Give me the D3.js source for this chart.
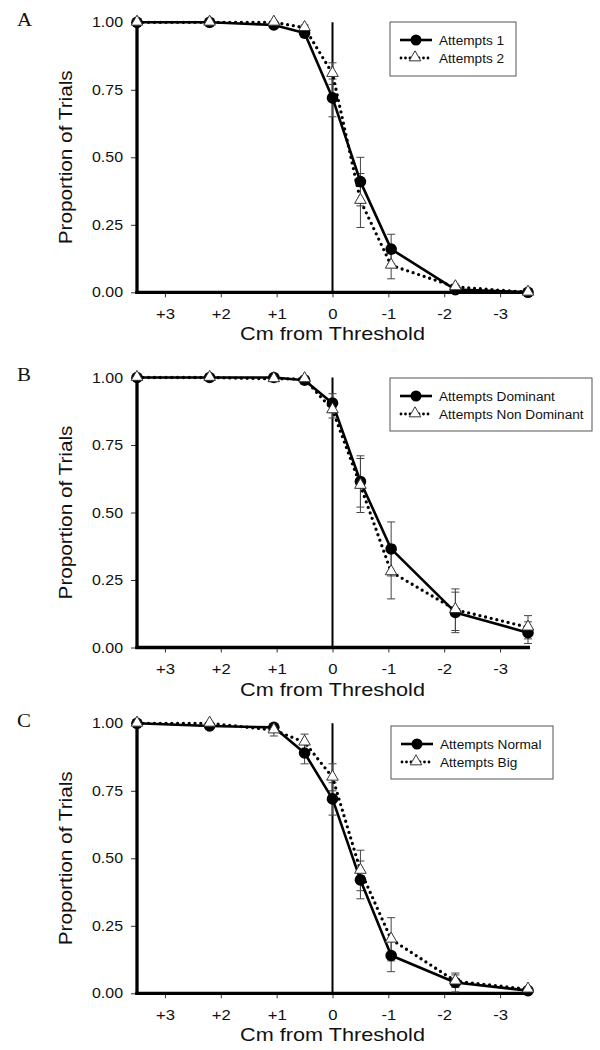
<!DOCTYPE html>
<html><head><meta charset="utf-8">
<script src="https://cdn.jsdelivr.net/npm/d3@7"></script>
<style>body{margin:0;background:#fff} svg{display:block}</style>
</head><body>
<svg id="chart" width="600" height="1050"></svg>
<script>
// ---------- data ----------
const xValues = [3.5, 2.2, 1.05, 0.5, 0, -0.5, -1.05, -2.2, -3.5];
const xTicks = [3, 2, 1, 0, -1, -2, -3];
const xTickLabels = ["+3", "+2", "+1", "0", "-1", "-2", "-3"];
const yTicks = [0, 0.25, 0.5, 0.75, 1];
const yTickLabels = ["0.00", "0.25", "0.50", "0.75", "1.00"];
const panelLetters = ["A", "B", "C"];
const xAxisTitle = "Cm from Threshold";
const yAxisTitle = "Proportion of Trials";

const namesA = ["Attempts 1", "Attempts 2"];
const valuesA1 = [1.00, 1.00, 0.99, 0.96, 0.72, 0.41, 0.16, 0.01, 0.00];
const errorsA1 = [0, 0, 0, 0.01, 0.07, 0.09, 0.055, 0.01, 0];
const valuesA2 = [1.00, 1.00, 1.00, 0.98, 0.81, 0.34, 0.10, 0.02, 0.00];
const errorsA2 = [0, 0, 0, 0.01, 0.04, 0.10, 0.05, 0.01, 0];

const namesB = ["Attempts Dominant", "Attempts Non Dominant"];
const valuesB1 = [1.00, 1.00, 1.00, 0.99, 0.905, 0.615, 0.365, 0.13, 0.055];
const errorsB1 = [0, 0, 0, 0.01, 0.035, 0.095, 0.10, 0.075, 0.04];
const valuesB2 = [1.00, 1.00, 0.995, 0.995, 0.88, 0.60, 0.28, 0.14, 0.075];
const errorsB2 = [0, 0, 0, 0.01, 0.03, 0.10, 0.10, 0.077, 0.043];

const namesC = ["Attempts Normal", "Attempts Big"];
const valuesC1 = [1.00, 0.99, 0.985, 0.89, 0.72, 0.42, 0.14, 0.04, 0.01];
const errorsC1 = [0, 0, 0.01, 0.04, 0.06, 0.07, 0.06, 0.035, 0.005];
const valuesC2 = [1.00, 1.00, 0.975, 0.93, 0.80, 0.455, 0.20, 0.045, 0.015];
const errorsC2 = [0, 0, 0.022, 0.03, 0.05, 0.075, 0.08, 0.023, 0.005];

// ---------- layout ----------
const svg = d3.select("#chart");
const FONT = "'Liberation Sans', Arial, sans-serif";
const SERIF = "'Liberation Serif', 'Times New Roman', serif";
const plotLeft = 137, plotRight = 528, plotH = 270;
const panels = [
  {top: 22.3, names: namesA, s: [[valuesA1, errorsA1], [valuesA2, errorsA2]],
   legend: {x: 390, y: 22, w: 126, h: 54}},
  {top: 377.5, names: namesB, s: [[valuesB1, errorsB1], [valuesB2, errorsB2]],
   legend: {x: 390, y: 378, w: 202, h: 53}},
  {top: 723.3, names: namesC, s: [[valuesC1, errorsC1], [valuesC2, errorsC2]],
   legend: {x: 391, y: 726, w: 162, h: 53}}
];

function stretch(sel, f) {
  sel.each(function () {
    const w = this.getComputedTextLength();
    d3.select(this).attr("textLength", w * f).attr("lengthAdjust", "spacingAndGlyphs");
  });
}

const triSym = d3.symbol().type(d3.symbolTriangle).size(58);

panels.forEach((p, pi) => {
  const g = svg.append("g");
  const x = d3.scaleLinear().domain([3.5, -3.5]).range([plotLeft, plotRight]);
  const y = d3.scaleLinear().domain([0, 1]).range([p.top + plotH, p.top]);
  const y0 = y(0);

  // panel letter
  g.append("text").attr("x", 17).attr("y", p.top + 3.5)
    .attr("font-family", SERIF).attr("font-size", 19).attr("fill", "#111")
    .text(panelLetters[pi]).call(stretch, 1.1);

  // zero line
  g.append("line").attr("x1", x(0)).attr("x2", x(0)).attr("y1", y(1)).attr("y2", y0)
    .attr("stroke", "#000").attr("stroke-width", 2);

  // y ticks + labels
  const yAxis = d3.axisLeft(y).tickValues(yTicks).tickSize(6).tickPadding(8)
    .tickFormat((d, i) => yTickLabels[i]);
  const ya = g.append("g").attr("transform", `translate(${plotLeft},0)`).call(yAxis);
  ya.select(".domain").remove();
  ya.selectAll(".tick line").attr("stroke", "#333").attr("stroke-width", 1);
  ya.selectAll(".tick text").attr("font-family", FONT).attr("font-size", 14.5)
    .attr("fill", "#111").call(stretch, 1.1);

  // x ticks + labels
  const xAxis = d3.axisBottom(x).tickValues(xTicks).tickSize(5).tickPadding(11)
    .tickFormat((d, i) => xTickLabels[i]);
  const xa = g.append("g").attr("transform", `translate(0,${y0})`).call(xAxis);
  xa.select(".domain").remove();
  xa.selectAll(".tick line").attr("stroke", "#333").attr("stroke-width", 1);
  xa.selectAll(".tick text").attr("font-family", FONT).attr("font-size", 14.5)
    .attr("fill", "#111").call(stretch, 1.15);

  // thick axis lines
  g.append("line").attr("x1", plotLeft).attr("x2", plotLeft).attr("y1", y(1)).attr("y2", y0 + 1.6)
    .attr("stroke", "#000").attr("stroke-width", 3.3);
  g.append("line").attr("x1", plotLeft - 1.6).attr("x2", plotRight + 2).attr("y1", y0).attr("y2", y0)
    .attr("stroke", "#000").attr("stroke-width", 3.3);

  // axis titles
  g.append("text").attr("x", (plotLeft + plotRight) / 2).attr("y", y0 + 48)
    .attr("text-anchor", "middle").attr("font-family", FONT).attr("font-size", 18.5)
    .attr("fill", "#111").text(xAxisTitle).call(stretch, 1.17);
  g.append("text").attr("transform", `translate(71.5,${(y(0) + y(1)) / 2}) rotate(-90)`)
    .attr("text-anchor", "middle").attr("font-family", FONT).attr("font-size", 18.5)
    .attr("fill", "#111").text(yAxisTitle).call(stretch, 1.12);

  // error bars
  p.s.forEach(([vals, errs]) => {
    const eg = g.append("g").attr("stroke", "#444").attr("stroke-width", 1);
    vals.forEach((v, i) => {
      const e = errs[i];
      if (!e) return;
      const cx = x(xValues[i]);
      eg.append("line").attr("x1", cx).attr("x2", cx).attr("y1", y(v - e)).attr("y2", y(v + e));
      [v - e, v + e].forEach(t => {
        eg.append("line").attr("x1", cx - 4).attr("x2", cx + 4).attr("y1", y(t)).attr("y2", y(t));
      });
    });
  });

  const line = d3.line().x((d, i) => x(xValues[i])).y(d => y(d));
  // series 1 solid line
  g.append("path").datum(p.s[0][0]).attr("d", line).attr("fill", "none")
    .attr("stroke", "#000").attr("stroke-width", 2.6).attr("stroke-linejoin", "round");
  // series 2 dotted line
  g.append("path").datum(p.s[1][0]).attr("d", line).attr("fill", "none")
    .attr("stroke", "#000").attr("stroke-width", 3.3).attr("stroke-linecap", "round")
    .attr("stroke-dasharray", "0 5.8");

  // markers
  g.append("g").selectAll("circle").data(p.s[0][0]).join("circle")
    .attr("cx", (d, i) => x(xValues[i])).attr("cy", d => y(d)).attr("r", 5.8).attr("fill", "#000");
  g.append("g").selectAll("path").data(p.s[1][0]).join("path")
    .attr("d", triSym)
    .attr("transform", (d, i) => `translate(${x(xValues[i])},${y(d) - 0.5})`)
    .attr("fill", "#fff").attr("stroke", "#333").attr("stroke-width", 1);

  // legend
  const L = p.legend;
  const lg = g.append("g");
  lg.append("rect").attr("x", L.x).attr("y", L.y).attr("width", L.w).attr("height", L.h)
    .attr("fill", "#fff").attr("stroke", "#555").attr("stroke-width", 1);
  [0, 1].forEach(k => {
    const cy = L.y + 18 + k * 18;
    if (k === 0) {
      lg.append("line").attr("x1", L.x + 10).attr("x2", L.x + 42).attr("y1", cy).attr("y2", cy)
        .attr("stroke", "#000").attr("stroke-width", 2.6);
      lg.append("circle").attr("cx", L.x + 26).attr("cy", cy).attr("r", 5.5).attr("fill", "#000");
    } else {
      lg.append("line").attr("x1", L.x + 11).attr("x2", L.x + 39).attr("y1", cy).attr("y2", cy)
        .attr("stroke", "#000").attr("stroke-width", 2.8).attr("stroke-linecap", "round")
        .attr("stroke-dasharray", "0 4.5");
      lg.append("path").attr("d", triSym).attr("transform", `translate(${L.x + 25},${cy - 0.5})`)
        .attr("fill", "#fff").attr("stroke", "#333").attr("stroke-width", 1);
    }
    lg.append("text").attr("x", L.x + 49).attr("y", cy + 4.5)
      .attr("font-family", FONT).attr("font-size", 12.5).attr("fill", "#111")
      .text(p.names[k]).call(stretch, 1.09);
  });
});
</script>
</body></html>
